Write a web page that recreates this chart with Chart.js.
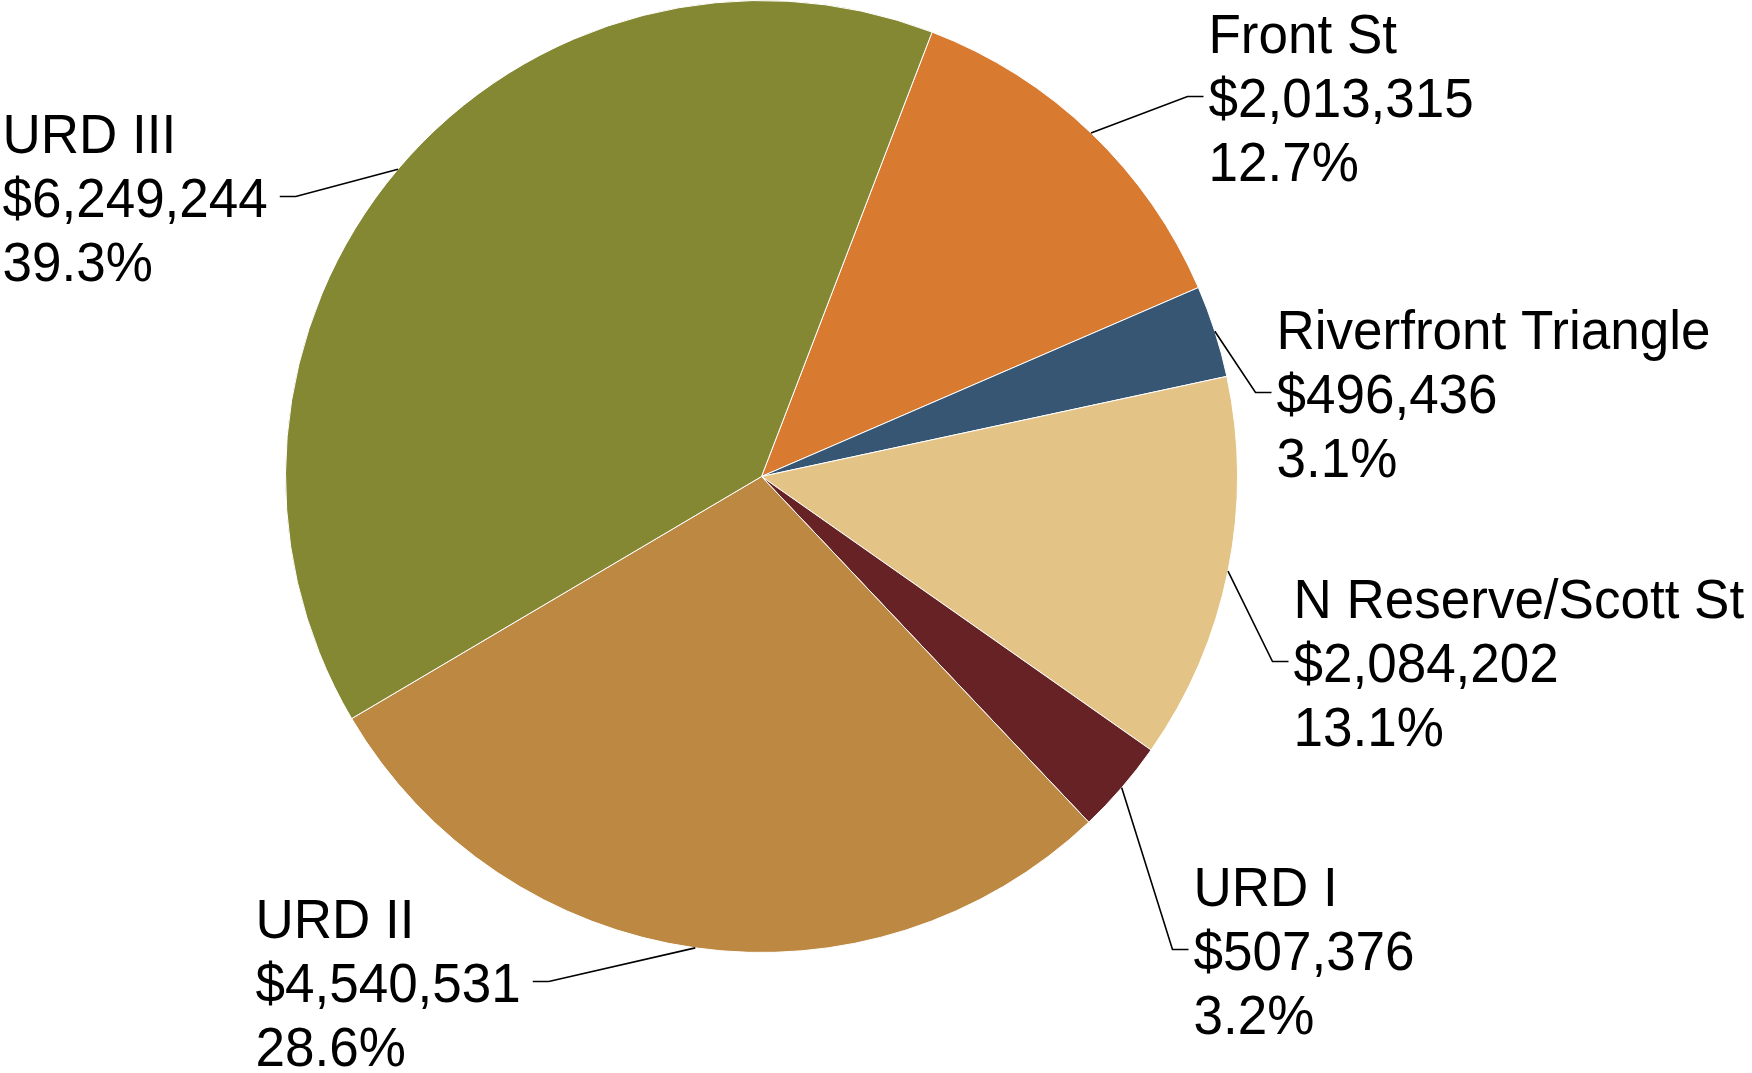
<!DOCTYPE html>
<html>
<head>
<meta charset="utf-8">
<script src="https://cdn.jsdelivr.net/npm/chart.js@4"></script>
<style>
  html, body { margin: 0; padding: 0; background: #ffffff; }
  canvas { display: block; }
</style>
</head>
<body>
<canvas id="pieChart" width="1752" height="1073"></canvas>
<script>
// Data
const districts = ['Front St', 'Riverfront Triangle', 'N Reserve/Scott St', 'URD I', 'URD II', 'URD III'];
const amounts = [2013315, 496436, 2084202, 507376, 4540531, 6249244];
const sliceColors = ['#D87A30', '#375673', '#E3C486', '#662224', '#BC8842', '#858832'];

// Where each label block sits: offset of the value line (left edge, baseline) from the pie centre
const labelOffsets = [
  [447, -360],
  [515, -64],
  [532, 205],
  [432, 493],
  [-506, 525],
  [-759, -260]
];
const labelSide = ['right', 'right', 'right', 'right', 'left', 'left'];

const FONT = '53px "Liberation Sans", Arial, sans-serif';
const TEXT_STRETCH = 1.06; // glyphs in the original are a bit taller than wide
const LINE_GAP = 64;

const total = amounts.reduce((a, b) => a + b, 0);
const fmtMoney = v => '$' + v.toLocaleString('en-US');
const fmtPct = v => (v / total * 100).toFixed(1) + '%';

function drawText(ctx, text, x, y) {
  ctx.save();
  ctx.translate(x, y);
  ctx.scale(1, TEXT_STRETCH);
  ctx.fillText(text, 0, 0);
  ctx.restore();
}

const leaderLabels = {
  id: 'leaderLabels',
  afterDraw(chart) {
    const ctx = chart.ctx;
    const meta = chart.getDatasetMeta(0);
    ctx.save();
    ctx.font = FONT;
    ctx.fillStyle = '#000000';
    ctx.strokeStyle = '#000000';
    ctx.lineWidth = 1.6;
    ctx.textAlign = 'left';
    ctx.textBaseline = 'alphabetic';

    meta.data.forEach((arc, i) => {
      const mid = (arc.startAngle + arc.endAngle) / 2;
      const ax = arc.x + Math.cos(mid) * arc.outerRadius;
      const ay = arc.y + Math.sin(mid) * arc.outerRadius;

      const tx = arc.x + labelOffsets[i][0];
      const vb = arc.y + labelOffsets[i][1];
      const valueText = fmtMoney(amounts[i]);
      const lineY = vb - 20;

      ctx.beginPath();
      if (labelSide[i] === 'right') {
        ctx.moveTo(ax, ay);
        ctx.lineTo(tx - 21, lineY);
        ctx.lineTo(tx - 5, lineY);
      } else {
        const w = ctx.measureText(valueText).width;
        const sx = tx + w + 12;
        ctx.moveTo(sx, lineY);
        ctx.lineTo(sx + 16, lineY);
        ctx.lineTo(ax, ay);
      }
      ctx.stroke();

      drawText(ctx, districts[i], tx, vb - LINE_GAP);
      drawText(ctx, valueText, tx, vb);
      drawText(ctx, fmtPct(amounts[i]), tx, vb + LINE_GAP);
    });
    ctx.restore();
  }
};

new Chart(document.getElementById('pieChart').getContext('2d'), {
  type: 'pie',
  data: {
    labels: districts,
    datasets: [{
      data: amounts,
      backgroundColor: sliceColors,
      borderColor: '#ffffff',
      borderWidth: 1
    }]
  },
  options: {
    responsive: false,
    animation: false,
    devicePixelRatio: 1,
    rotation: 21,
    layout: {
      padding: { left: 0, right: 229, top: 0, bottom: 120 }
    },
    plugins: {
      legend: { display: false },
      tooltip: { enabled: false }
    }
  },
  plugins: [leaderLabels]
});
</script>
</body>
</html>
